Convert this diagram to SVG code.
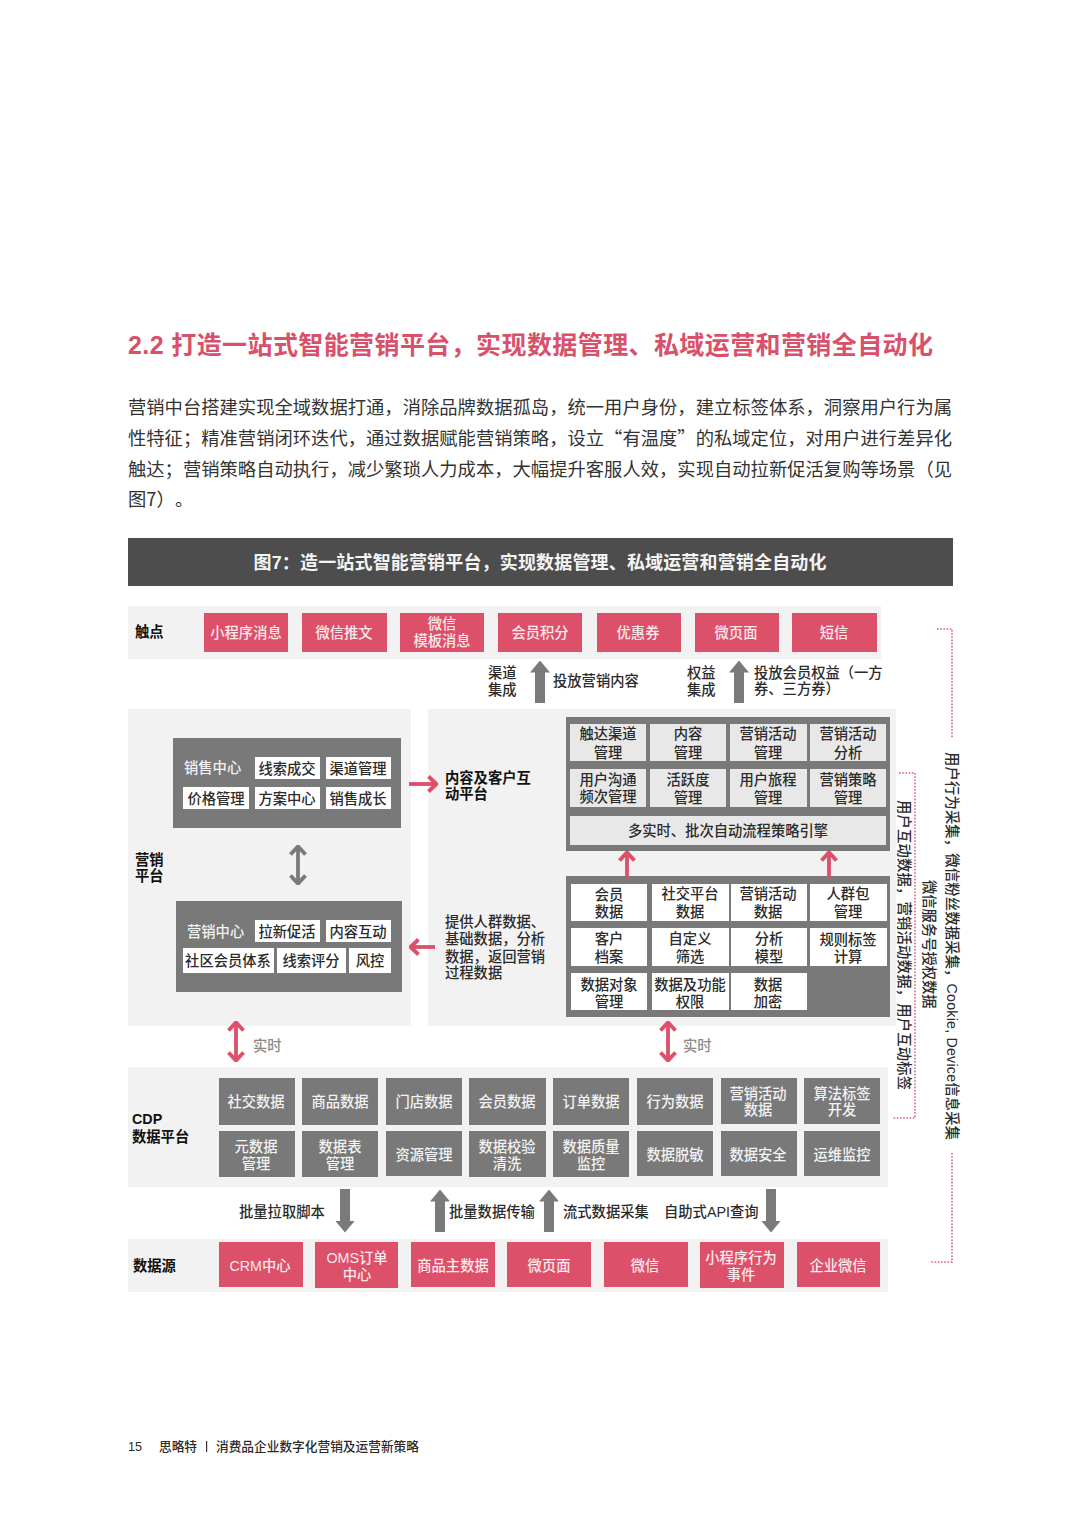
<svg xmlns="http://www.w3.org/2000/svg" width="1080" height="1527" viewBox="0 0 1080 1527">
<style>
text{font-family:"Liberation Sans","Noto Sans CJK SC",sans-serif;font-size:14.3px;fill:#2b2b2b;font-weight:500}
.c{text-anchor:middle}
.band{fill:#f2f2f2}
.pink{fill:#dc5069}
.pt{fill:#fbe9ec}
.dark{fill:#797979}
.light{fill:#fff}
.soft{fill:#e8e8e8}
.wt{fill:#f2f2f2}
.b{font-weight:700;fill:#111}
.gt{fill:#8a8a8a}
.body{font-family:"Noto Sans CJK SC","Liberation Sans",sans-serif;font-size:18.3px;fill:#333;font-weight:400}
.foot{font-size:12.7px}
.block{stroke:#7a7a7a;stroke-width:10;fill:none}
.thin-p{stroke:#dc5069;stroke-width:3.8;fill:none}
.thin-g{stroke:#7a7a7a;stroke-width:3.8;fill:none}
.dot{stroke:#d9607a;stroke-width:1.6;stroke-dasharray:1.6 1.6;fill:none}
</style>
<defs>
<marker id="tri" viewBox="0 0 12 20" refX="0.5" refY="10" markerWidth="12" markerHeight="20" markerUnits="userSpaceOnUse" orient="auto"><path d="M0,0L12,10L0,20z" fill="#7a7a7a"/></marker>
<marker id="chevP" viewBox="0 0 11 18" refX="10" refY="9" markerWidth="11" markerHeight="18" markerUnits="userSpaceOnUse" orient="auto-start-reverse"><path d="M1.500,1.500L9.500,9L1.500,16.500" fill="none" stroke="#dc5069" stroke-width="4"/></marker>
<marker id="chevG" viewBox="0 0 11 18" refX="10" refY="9" markerWidth="11" markerHeight="18" markerUnits="userSpaceOnUse" orient="auto-start-reverse"><path d="M1.500,1.500L9.500,9L1.500,16.500" fill="none" stroke="#7a7a7a" stroke-width="4"/></marker>
</defs>
<rect width="1080" height="1527" fill="#fff"/>

<g id="heading">
<text x="128" y="354" textLength="805" style="font-size:25px;font-weight:700;fill:#d9506a">2.2 打造一站式智能营销平台，实现数据管理、私域运营和营销全自动化</text>
<text class="body" x="128" y="414" textLength="824">营销中台搭建实现全域数据打通，消除品牌数据孤岛，统一用户身份，建立标签体系，洞察用户行为属</text>
<text class="body" x="128" y="445" textLength="824">性特征；精准营销闭环迭代，通过数据赋能营销策略，设立“有温度”的私域定位，对用户进行差异化</text>
<text class="body" x="128" y="476" textLength="824">触达；营销策略自动执行，减少繁琐人力成本，大幅提升客服人效，实现自动拉新促活复购等场景（见</text>
<text class="body" x="128" y="506">图7）<tspan x="175" y="506">。</tspan></text>
<rect x="128" y="538" width="825" height="48" fill="#4d4d4d"/>
<text x="540" y="569" class="c" textLength="573" style="font-size:18px;font-weight:700;fill:#f4f4f4">图7：造一站式智能营销平台，实现数据管理、私域运营和营销全自动化</text>
</g>

<g id="bands">
<rect class="band" x="128" y="606" width="753" height="53"/>
<rect class="band" x="128" y="709" width="283" height="317"/>
<rect class="band" x="428" y="709" width="468" height="317"/>
<rect class="band" x="128" y="1067" width="760" height="120"/>
<rect class="band" x="128" y="1239" width="760" height="53"/>
</g>

<g id="touchpoints">
<text class="b" x="135" y="637">触点</text>
<g id="t1"><rect class="pink" x="204" y="613" width="84" height="39"/><text class="c pt" x="246" y="638">小程序消息</text></g>
<g id="t2"><rect class="pink" x="302" y="613" width="85" height="39"/><text class="c pt" x="344" y="638">微信推文</text></g>
<g id="t3"><rect class="pink" x="400" y="613" width="84" height="39"/><text class="c pt" x="442" y="629">微信<tspan x="442" y="646">模板消息</tspan></text></g>
<g id="t4"><rect class="pink" x="498" y="613" width="84" height="39"/><text class="c pt" x="540" y="638">会员积分</text></g>
<g id="t5"><rect class="pink" x="597" y="613" width="84" height="39"/><text class="c pt" x="638" y="638">优惠券</text></g>
<g id="t6"><rect class="pink" x="695" y="613" width="84" height="39"/><text class="c pt" x="736" y="638">微页面</text></g>
<g id="t7"><rect class="pink" x="792" y="613" width="85" height="39"/><text class="c pt" x="834" y="638">短信</text></g>
</g>

<g id="labels">
<text x="488" y="678">渠道<tspan x="488" y="695">集成</tspan></text>
<text x="553" y="686">投放营销内容</text>
<text x="687" y="678">权益<tspan x="687" y="695">集成</tspan></text>
<text x="754" y="678">投放会员权益（一方<tspan x="754" y="694">券、三方券）</tspan></text>
<text class="b" x="135" y="865">营销<tspan x="135" y="881">平台</tspan></text>
<text class="b" x="445" y="783">内容及客户互<tspan x="445" y="799">动平台</tspan></text>
<text x="445" y="927">提供人群数据、<tspan x="445" y="944">基础数据，分析</tspan><tspan x="445" y="962">数据，返回营销</tspan><tspan x="445" y="978">过程数据</tspan></text>
<text class="gt" x="253" y="1051">实时</text>
<text class="gt" x="683" y="1051">实时</text>
<text class="b" x="132" y="1124">CDP<tspan x="132" y="1142">数据平台</tspan></text>
<text class="b" x="133" y="1271">数据源</text>
<text x="239" y="1217">批量拉取脚本</text>
<text x="449" y="1217">批量数据传输</text>
<text x="563" y="1217">流式数据采集</text>
<text x="664" y="1217">自助式API查询</text>
<text transform="translate(947,752) rotate(90)" textLength="388">用户行为采集，微信粉丝数据采集，Cookie, Device信息采集</text>
<text transform="translate(924,880) rotate(90)">微信服务号授权数据</text>
<text transform="translate(899,800) rotate(90)" textLength="290">用户互动数据，营销活动数据，用户互动标签</text>
</g>

<g id="sales-center">
<rect class="dark" x="173" y="738" width="228" height="90"/>
<text class="wt" x="184" y="773">销售中心</text>
<g id="s1"><rect class="light" x="255" y="757" width="65" height="22"/><text class="c" x="287" y="774">线索成交</text></g>
<g id="s2"><rect class="light" x="326" y="757" width="65" height="22"/><text class="c" x="358" y="774">渠道管理</text></g>
<g id="s3"><rect class="light" x="183" y="787" width="66" height="22"/><text class="c" x="216" y="804">价格管理</text></g>
<g id="s4"><rect class="light" x="255" y="787" width="65" height="22"/><text class="c" x="287" y="804">方案中心</text></g>
<g id="s5"><rect class="light" x="326" y="787" width="65" height="22"/><text class="c" x="358" y="804">销售成长</text></g>
</g>

<g id="marketing-center">
<rect class="dark" x="176" y="901" width="226" height="91"/>
<text class="wt" x="187" y="937">营销中心</text>
<g id="m1"><rect class="light" x="255" y="920" width="65" height="22"/><text class="c" x="287" y="937">拉新促活</text></g>
<g id="m2"><rect class="light" x="326" y="920" width="65" height="22"/><text class="c" x="358" y="937">内容互动</text></g>
<g id="m3"><rect class="light" x="183" y="948" width="91" height="25"/><text class="c" x="228" y="966">社区会员体系</text></g>
<g id="m4"><rect class="light" x="277" y="948" width="69" height="25"/><text class="c" x="311" y="966">线索评分</text></g>
<g id="m5"><rect class="light" x="349" y="948" width="42" height="25"/><text class="c" x="370" y="966">风控</text></g>
</g>

<g id="content-platform">
<rect class="dark" x="566" y="717" width="324" height="134"/>
<g id="c1"><rect class="soft" x="570" y="724" width="76" height="37"/><text class="c" x="608" y="739">触达渠道<tspan x="608" y="758">管理</tspan></text></g>
<g id="c2"><rect class="soft" x="650" y="724" width="76" height="37"/><text class="c" x="688" y="739">内容<tspan x="688" y="758">管理</tspan></text></g>
<g id="c3"><rect class="soft" x="730" y="724" width="77" height="37"/><text class="c" x="768" y="739">营销活动<tspan x="768" y="758">管理</tspan></text></g>
<g id="c4"><rect class="soft" x="810" y="724" width="76" height="37"/><text class="c" x="848" y="739">营销活动<tspan x="848" y="758">分析</tspan></text></g>
<g id="c5"><rect class="soft" x="570" y="769" width="76" height="38"/><text class="c" x="608" y="785">用户沟通<tspan x="608" y="802">频次管理</tspan></text></g>
<g id="c6"><rect class="soft" x="650" y="769" width="76" height="38"/><text class="c" x="688" y="785">活跃度<tspan x="688" y="803">管理</tspan></text></g>
<g id="c7"><rect class="soft" x="730" y="769" width="77" height="38"/><text class="c" x="768" y="785">用户旅程<tspan x="768" y="803">管理</tspan></text></g>
<g id="c8"><rect class="soft" x="810" y="769" width="76" height="38"/><text class="c" x="848" y="785">营销策略<tspan x="848" y="803">管理</tspan></text></g>
<g id="c9"><rect class="soft" x="570" y="816" width="316" height="29"/><text class="c" x="728" y="836">多实时、批次自动流程策略引擎</text></g>
</g>

<g id="data-layer">
<rect class="dark" x="566" y="876" width="324" height="141"/>
<g id="d1"><rect class="light" x="571" y="884" width="76" height="37"/><text class="c" x="609" y="900">会员<tspan x="609" y="917">数据</tspan></text></g>
<g id="d2"><rect class="light" x="652" y="884" width="77" height="37"/><text class="c" x="690" y="899">社交平台<tspan x="690" y="917">数据</tspan></text></g>
<g id="d3"><rect class="light" x="731" y="884" width="76" height="37"/><text class="c" x="768" y="899">营销活动<tspan x="768" y="917">数据</tspan></text></g>
<g id="d4"><rect class="light" x="810" y="884" width="77" height="37"/><text class="c" x="848" y="899">人群包<tspan x="848" y="917">管理</tspan></text></g>
<g id="d5"><rect class="light" x="571" y="928" width="76" height="38"/><text class="c" x="609" y="944">客户<tspan x="609" y="962">档案</tspan></text></g>
<g id="d6"><rect class="light" x="652" y="928" width="77" height="38"/><text class="c" x="690" y="944">自定义<tspan x="690" y="962">筛选</tspan></text></g>
<g id="d7"><rect class="light" x="731" y="928" width="76" height="38"/><text class="c" x="769" y="944">分析<tspan x="769" y="962">模型</tspan></text></g>
<g id="d8"><rect class="light" x="810" y="928" width="77" height="38"/><text class="c" x="848" y="945">规则标签<tspan x="848" y="962">计算</tspan></text></g>
<g id="d9"><rect class="light" x="571" y="973" width="76" height="37"/><text class="c" x="609" y="990">数据对象<tspan x="609" y="1007">管理</tspan></text></g>
<g id="d10"><rect class="light" x="652" y="973" width="77" height="37"/><text class="c" x="690" y="990">数据及功能<tspan x="690" y="1007">权限</tspan></text></g>
<g id="d11"><rect class="light" x="731" y="973" width="76" height="37"/><text class="c" x="768" y="990">数据<tspan x="768" y="1007">加密</tspan></text></g>
</g>

<g id="cdp">
<g id="p1"><rect class="dark" x="219" y="1078" width="76" height="47"/><text class="c wt" x="256" y="1107">社交数据</text></g>
<g id="p2"><rect class="dark" x="302" y="1078" width="76" height="47"/><text class="c wt" x="340" y="1107">商品数据</text></g>
<g id="p3"><rect class="dark" x="386" y="1078" width="76" height="47"/><text class="c wt" x="424" y="1107">门店数据</text></g>
<g id="p4"><rect class="dark" x="469" y="1078" width="77" height="47"/><text class="c wt" x="507" y="1107">会员数据</text></g>
<g id="p5"><rect class="dark" x="553" y="1078" width="76" height="47"/><text class="c wt" x="591" y="1107">订单数据</text></g>
<g id="p6"><rect class="dark" x="637" y="1078" width="76" height="47"/><text class="c wt" x="675" y="1107">行为数据</text></g>
<g id="p7"><rect class="dark" x="721" y="1078" width="76" height="46"/><text class="c wt" x="758" y="1099">营销活动<tspan x="758" y="1115">数据</tspan></text></g>
<g id="p8"><rect class="dark" x="804" y="1078" width="76" height="46"/><text class="c wt" x="842" y="1099">算法标签<tspan x="842" y="1115">开发</tspan></text></g>
<g id="q1"><rect class="dark" x="219" y="1131" width="76" height="46"/><text class="c wt" x="256" y="1152">元数据<tspan x="256" y="1169">管理</tspan></text></g>
<g id="q2"><rect class="dark" x="302" y="1131" width="76" height="46"/><text class="c wt" x="340" y="1152">数据表<tspan x="340" y="1169">管理</tspan></text></g>
<g id="q3"><rect class="dark" x="386" y="1131" width="76" height="45"/><text class="c wt" x="424" y="1160">资源管理</text></g>
<g id="q4"><rect class="dark" x="469" y="1131" width="77" height="46"/><text class="c wt" x="507" y="1152">数据校验<tspan x="507" y="1169">清洗</tspan></text></g>
<g id="q5"><rect class="dark" x="553" y="1131" width="76" height="46"/><text class="c wt" x="591" y="1152">数据质量<tspan x="591" y="1169">监控</tspan></text></g>
<g id="q6"><rect class="dark" x="637" y="1131" width="76" height="45"/><text class="c wt" x="675" y="1160">数据脱敏</text></g>
<g id="q7"><rect class="dark" x="721" y="1131" width="76" height="45"/><text class="c wt" x="758" y="1160">数据安全</text></g>
<g id="q8"><rect class="dark" x="804" y="1131" width="76" height="45"/><text class="c wt" x="842" y="1160">运维监控</text></g>
</g>

<g id="sources">
<g id="r1"><rect class="pink" x="219" y="1242" width="84" height="45"/><text class="c pt" x="260" y="1271">CRM中心</text></g>
<g id="r2"><rect class="pink" x="315" y="1242" width="83" height="46"/><text class="c pt" x="357" y="1263">OMS订单<tspan x="357" y="1280">中心</tspan></text></g>
<g id="r3"><rect class="pink" x="411" y="1242" width="84" height="45"/><text class="c pt" x="453" y="1271">商品主数据</text></g>
<g id="r4"><rect class="pink" x="507" y="1242" width="84" height="45"/><text class="c pt" x="549" y="1271">微页面</text></g>
<g id="r5"><rect class="pink" x="604" y="1242" width="84" height="45"/><text class="c pt" x="645" y="1271">微信</text></g>
<g id="r6"><rect class="pink" x="700" y="1242" width="84" height="46"/><text class="c pt" x="741" y="1263">小程序行为<tspan x="741" y="1280">事件</tspan></text></g>
<g id="r7"><rect class="pink" x="797" y="1242" width="83" height="45"/><text class="c pt" x="838" y="1271">企业微信</text></g>
</g>

<g id="connectors">
<line class="block" x1="540" y1="703" x2="540" y2="672" marker-end="url(#tri)"/>
<line class="block" x1="739" y1="703" x2="739" y2="672" marker-end="url(#tri)"/>
<line class="block" x1="345" y1="1189" x2="345" y2="1221" marker-end="url(#tri)"/>
<line class="block" x1="440" y1="1232" x2="440" y2="1201" marker-end="url(#tri)"/>
<line class="block" x1="549" y1="1232" x2="549" y2="1201" marker-end="url(#tri)"/>
<line class="block" x1="771" y1="1189" x2="771" y2="1221" marker-end="url(#tri)"/>
<line class="thin-g" x1="298" y1="846" x2="298" y2="884" marker-start="url(#chevG)" marker-end="url(#chevG)"/>
<line class="thin-p" x1="409" y1="784" x2="437" y2="784" marker-end="url(#chevP)"/>
<line class="thin-p" x1="435" y1="947" x2="410" y2="947" marker-end="url(#chevP)"/>
<line class="thin-p" x1="627" y1="877" x2="627" y2="852" marker-end="url(#chevP)"/>
<line class="thin-p" x1="829" y1="877" x2="829" y2="852" marker-end="url(#chevP)"/>
<line class="thin-p" x1="236" y1="1022" x2="236" y2="1061" marker-start="url(#chevP)" marker-end="url(#chevP)"/>
<line class="thin-p" x1="668" y1="1022" x2="668" y2="1061" marker-start="url(#chevP)" marker-end="url(#chevP)"/>
<path class="dot" d="M937,629H952V738"/>
<path class="dot" d="M952,1153V1262H930"/>
<path class="dot" d="M899,773H915V1118H893"/>
</g>

<g id="footer">
<text class="foot" x="128" y="1451">15</text>
<text class="foot" x="159" y="1451">思略特</text>
<rect x="206" y="1441" width="1.200" height="11" fill="#333"/>
<text class="foot" x="216" y="1451">消费品企业数字化营销及运营新策略</text>
</g>
</svg>
